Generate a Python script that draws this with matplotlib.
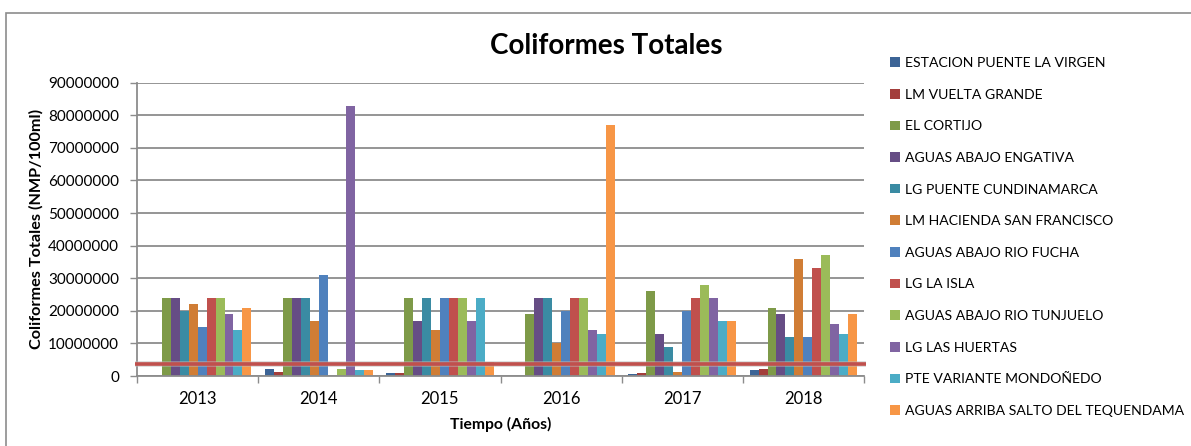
import matplotlib
matplotlib.use("Agg")
import matplotlib.pyplot as plt
import matplotlib.transforms as mtransforms
import numpy as np
from matplotlib.patches import Rectangle

years = ["2013", "2014", "2015", "2016", "2017", "2018"]
stations = [
    "ESTACION PUENTE LA VIRGEN",
    "LM VUELTA GRANDE",
    "EL CORTIJO",
    "AGUAS ABAJO ENGATIVA",
    "LG PUENTE CUNDINAMARCA",
    "LM HACIENDA SAN FRANCISCO",
    "AGUAS ABAJO RIO FUCHA",
    "LG LA ISLA",
    "AGUAS ABAJO RIO TUNJUELO",
    "LG LAS HUERTAS",
    "PTE VARIANTE MONDOÑEDO",
    "AGUAS ARRIBA SALTO DEL TEQUENDAMA",
]
colors = ["#3C6496", "#A33E3B", "#7E9A48", "#664D85", "#3A8BA3", "#D07D35",
          "#4F81BD", "#C0504D", "#9BBB59", "#8064A2", "#4BACC6", "#F79646"]

puente_la_virgen   = [0,        2200000, 900000,   0,        500000,   1800000]
vuelta_grande      = [0,        1300000, 900000,   0,        800000,   2300000]
el_cortijo         = [24000000, 24000000, 24000000, 19000000, 26000000, 21000000]
abajo_engativa     = [24000000, 24000000, 17000000, 24000000, 13000000, 19000000]
puente_cundinamarca= [20000000, 24000000, 24000000, 24000000, 9000000,  12000000]
hacienda_sf        = [22000000, 17000000, 14000000, 10000000, 1200000,  36000000]
rio_fucha          = [15000000, 31000000, 24000000, 20000000, 20000000, 12000000]
la_isla            = [24000000, 0,        24000000, 24000000, 24000000, 33000000]
rio_tunjuelo       = [24000000, 2300000,  24000000, 24000000, 28000000, 37000000]
las_huertas        = [19000000, 83000000, 17000000, 14000000, 24000000, 16000000]
variante_mondonedo = [14000000, 1700000,  24000000, 13000000, 17000000, 13000000]
salto_tequendama   = [21000000, 1700000,  4300000,  77000000, 17000000, 19000000]

series = [puente_la_virgen, vuelta_grande, el_cortijo, abajo_engativa,
          puente_cundinamarca, hacienda_sf, rio_fucha, la_isla, rio_tunjuelo,
          las_huertas, variante_mondonedo, salto_tequendama]

limit_value = 3600000
yticks = list(range(0, 90000001, 10000000))

FONT = "Lato"
plt.rcParams["font.family"] = [FONT, "DejaVu Sans"]

W, H = 1191, 446
fig = plt.figure(figsize=(W / 100, H / 100), dpi=100)

# chart border
fig.patches.append(Rectangle((6 / W, -0.1), 1.2, 1 - 13 / H + 0.1,
                             transform=fig.transFigure, fill=False,
                             edgecolor="#8c8c8c", linewidth=1.2))

ax = fig.add_axes([137 / W, 1 - 376 / H, (864 - 137) / W, (376 - 82.7) / H])

n = len(series)
x = np.arange(len(years))
gap = 1.5
bw = 1.0 / (n + gap)
for i, (vals, c) in enumerate(zip(series, colors)):
    offs = (i - (n - 1) / 2) * bw
    ax.bar(x + offs, vals, width=bw, color=c, edgecolor="none",
           label=stations[i], zorder=3)

ax.set_xlim(-0.5, len(years) - 0.5)
ax.set_ylim(0, 90000000)
ax.set_yticks(yticks)
ax.set_yticklabels([str(v) for v in yticks])
ax.set_xticks(x)
ax.set_xticklabels(years)
ax.set_xticks(np.arange(len(years) + 1) - 0.5, minor=True)
ax.tick_params(axis="x", which="major", length=0, pad=11, labelsize=12)
ax.tick_params(axis="x", which="minor", length=5, color="#8c8c8c", width=1)
ax.tick_params(axis="y", length=5, color="#8c8c8c", width=1, labelsize=11, pad=8)
ax.grid(axis="y", color="#8c8c8c", linewidth=1.3, zorder=0)
for s in ["top", "right"]:
    ax.spines[s].set_visible(False)
for s in ["left", "bottom"]:
    ax.spines[s].set_color("#8c8c8c")
    ax.spines[s].set_linewidth(1.3)
    ax.spines[s].set_zorder(4)

# reference line
trans = mtransforms.blended_transform_factory(ax.transAxes, ax.transData)
ax.plot([-0.003, 1.003], [limit_value, limit_value], transform=trans,
        color="#bcbcbc", linewidth=4, alpha=0.6, zorder=5, clip_on=False,
        solid_capstyle="butt")
ax.plot([-0.003, 1.003], [limit_value, limit_value], transform=trans,
        color="#C0504D", linewidth=2.6, zorder=6, clip_on=False,
        solid_capstyle="butt")

ax.set_ylabel("Coliformes Totales (NMP/100ml)", fontsize=11.7, fontweight="bold",
              labelpad=3)
ax.set_xlabel("Tiempo (Años)", fontsize=11.3, fontweight="bold", labelpad=7)

fig.text(606 / W, 1 - 46 / H, "Coliformes Totales", ha="center", va="center",
         fontsize=20, fontweight="bold")

# legend
handles, labels = ax.get_legend_handles_labels()
leg = fig.legend(handles, labels, loc="upper left",
                 bbox_to_anchor=(890 / W, 1 - 57 / H), frameon=False,
                 fontsize=10.1, handlelength=0.68, handleheight=0.68,
                 handletextpad=0.42, labelspacing=1.40, borderaxespad=0,
                 borderpad=0)

fig.savefig("out.png", dpi=100)
